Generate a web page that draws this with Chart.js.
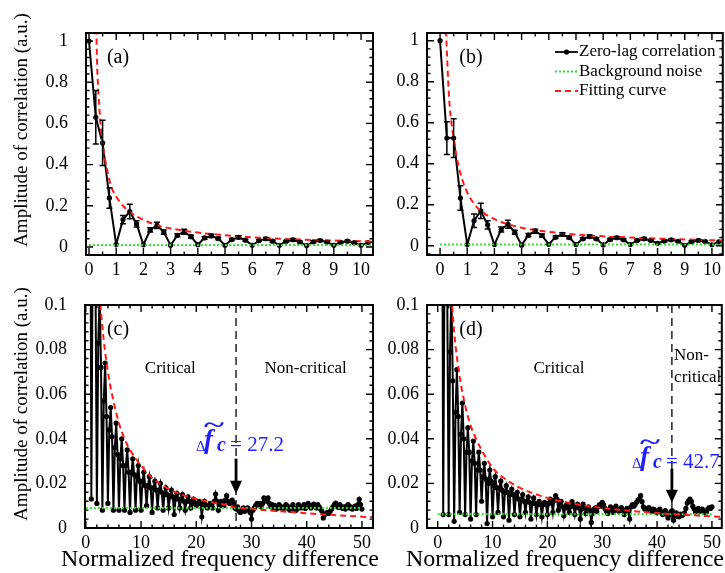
<!DOCTYPE html>
<html>
<head>
<meta charset="utf-8">
<script src="https://cdn.jsdelivr.net/npm/chart.js@4.4.1/dist/chart.umd.min.js"></script>
<style>
  html, body { margin: 0; padding: 0; background: #fff; }
  #wrap { position: relative; width: 725px; height: 573px; overflow: hidden; }
  #wrap canvas { position: absolute; left: 0; top: 0; }
</style>
</head>
<body>
<div id="wrap">
  <canvas id="chartA" width="725" height="573"></canvas>
  <canvas id="chartB" width="725" height="573"></canvas>
  <canvas id="chartC" width="725" height="573"></canvas>
  <canvas id="chartD" width="725" height="573"></canvas>
</div>
<script>
// zero-lag correlation, one value every 0.25 of normalized frequency difference (0 .. 50)
// panels (a) and (c) show the same measurement, (b) and (d) the other one
const corrAC = [
  1.0, 0.63, 0.505, 0.238,   0.013, 0.133, 0.172, 0.112,   0.011, 0.083, 0.105, 0.072,
  0.008, 0.057, 0.074, 0.05,  0.011, 0.044, 0.054, 0.041,   0.008, 0.036, 0.047, 0.033,
  0.008, 0.031, 0.040, 0.028, 0.008, 0.028, 0.035, 0.025,   0.007, 0.025, 0.031, 0.024,
  0.008, 0.023, 0.028, 0.021, 0.008, 0.021, 0.025, 0.019,   0.010, 0.019, 0.023, 0.018,
  0.007, 0.018, 0.021, 0.017, 0.009, 0.017, 0.020, 0.016,   0.008, 0.015, 0.018, 0.015,
  0.009, 0.014, 0.017, 0.014, 0.006, 0.013, 0.0155, 0.013,  0.009, 0.013, 0.015, 0.012,
  0.008, 0.012, 0.014, 0.012, 0.009, 0.011, 0.013, 0.011,   0.010, 0.011, 0.012, 0.011,
  0.005, 0.010, 0.012, 0.010, 0.009, 0.010, 0.011, 0.010,   0.009, 0.012, 0.0152, 0.012,
  0.008, 0.010, 0.012, 0.011, 0.010, 0.0125, 0.0145, 0.012, 0.011, 0.012, 0.0125, 0.011,
  0.009, 0.0085, 0.0095, 0.0075, 0.007, 0.008, 0.009, 0.0075, 0.008, 0.009, 0.0085, 0.007,
  0.004, 0.008, 0.009, 0.010, 0.011, 0.0105, 0.011, 0.0095, 0.011, 0.0135, 0.013, 0.012,
  0.0135, 0.011, 0.0095, 0.0105, 0.009, 0.010, 0.0085, 0.0095, 0.0105, 0.009, 0.0095, 0.0085,
  0.0095, 0.0105, 0.0098, 0.0085, 0.008, 0.0095, 0.0105, 0.009, 0.0078, 0.0085, 0.0105, 0.0095,
  0.009, 0.0095, 0.0105, 0.0088, 0.0095, 0.011, 0.010, 0.009, 0.0098, 0.0107, 0.0095, 0.009,
  0.0105, 0.0095, 0.0085, 0.0075, 0.0045, 0.006, 0.0065, 0.007, 0.0065, 0.0075, 0.0085, 0.0095,
  0.0105, 0.0112, 0.0098, 0.0092, 0.0105, 0.0095, 0.0088, 0.0095, 0.0085, 0.0098, 0.0105, 0.009,
  0.0095, 0.0085, 0.0092, 0.0098, 0.0088, 0.0105, 0.0128, 0.0105,
  0.0085
];
const corrBD = [
  1.0, 0.525, 0.525, 0.233,  0.006, 0.122, 0.17, 0.102,    0.006, 0.079, 0.105, 0.066,
  0.003, 0.052, 0.071, 0.050, 0.007, 0.042, 0.056, 0.040,   0.006, 0.034, 0.045, 0.034,
  0.004, 0.030, 0.039, 0.029, 0.006, 0.026, 0.034, 0.026,   0.012, 0.023, 0.029, 0.022,
  0.002, 0.020, 0.026, 0.021, 0.005, 0.019, 0.023, 0.018,   0.007, 0.018, 0.021, 0.017,
  0.005, 0.016, 0.019, 0.016, 0.0035, 0.015, 0.0175, 0.015, 0.006, 0.014, 0.016, 0.013,
  0.005, 0.013, 0.015, 0.012, 0.007, 0.012, 0.014, 0.0115,  0.004, 0.011, 0.0135, 0.011,
  0.006, 0.0105, 0.012, 0.0105, 0.005, 0.0105, 0.0115, 0.0105, 0.006, 0.011, 0.013, 0.012,
  0.007, 0.0125, 0.0145, 0.013, 0.008, 0.0115, 0.012, 0.0095, 0.0055, 0.009, 0.0105, 0.009,
  0.007, 0.0095, 0.0118, 0.010, 0.006, 0.0095, 0.0107, 0.009, 0.004, 0.0085, 0.0107, 0.0095,
  0.0065, 0.009, 0.0095, 0.008, 0.0025, 0.0065, 0.0085, 0.009, 0.0075, 0.0095, 0.0105, 0.0098,
  0.0115, 0.0105, 0.0088, 0.0075, 0.0065, 0.008, 0.0095, 0.0085, 0.007, 0.0088, 0.0098, 0.0082,
  0.0075, 0.0085, 0.0092, 0.0078, 0.006, 0.0078, 0.0088, 0.0072, 0.004, 0.0095, 0.0105, 0.0098,
  0.0105, 0.0115, 0.0125, 0.013, 0.0145, 0.0118, 0.0095, 0.0085, 0.0082, 0.0088, 0.0092, 0.0078,
  0.0075, 0.0085, 0.0082, 0.0072, 0.0068, 0.0078, 0.0085, 0.0072, 0.006, 0.0065, 0.0078, 0.0062,
  0.0045, 0.006, 0.0072, 0.0078, 0.0035, 0.0058, 0.0068, 0.0052, 0.005, 0.0062, 0.0055, 0.006,
  0.0068, 0.0088, 0.0112, 0.0122, 0.013, 0.0118, 0.0098, 0.0085, 0.0072, 0.0082, 0.0088, 0.0075,
  0.0078, 0.0085, 0.0075, 0.0068, 0.0072, 0.0085, 0.0092, 0.0088,
  0.0095
];
// error bars (half height) for the first 41 points, shown in (a) and (b)
const errA = [
  0, 0.13, 0.11, 0.05,  0, 0.02, 0.035, 0.015,  0, 0.01, 0.015, 0.01,  0, 0.007, 0.012, 0.007,
  0, 0.006, 0.008, 0.006,  0, 0.005, 0.007, 0.005,  0, 0.005, 0.006, 0.005,  0, 0.004, 0.006, 0.004,
  0, 0.004, 0.005, 0.004,  0, 0.004, 0.005, 0.004,  0
];
const errB = [
  0, 0.08, 0.095, 0.06,  0, 0.033, 0.037, 0.02,  0, 0.012, 0.02, 0.01,  0, 0.008, 0.01, 0.007,
  0, 0.006, 0.008, 0.006,  0, 0.005, 0.007, 0.005,  0, 0.005, 0.006, 0.005,  0, 0.004, 0.006, 0.004,
  0, 0.004, 0.005, 0.004,  0, 0.004, 0.005, 0.004,  0
];
// fitting curves
const fitXAC = [0.27, 0.3, 0.35, 0.4, 0.5, 0.6, 0.8, 1, 1.25, 1.5, 2, 2.5, 3, 4, 5, 6, 7, 8, 10, 12, 15, 20, 25, 27.2, 30, 35, 40, 45, 50, 52];
const fitYAC = [1.06, 0.88, 0.74, 0.64, 0.50, 0.42, 0.30, 0.245, 0.2, 0.17, 0.132, 0.106, 0.09, 0.07, 0.057, 0.047, 0.04, 0.035, 0.028, 0.0225, 0.0175, 0.013, 0.0105, 0.0093, 0.0085, 0.0075, 0.0066, 0.0058, 0.0051, 0.0048];
const fitXBD = [0.22, 0.25, 0.3, 0.35, 0.4, 0.5, 0.6, 0.8, 1, 1.25, 1.5, 2, 2.5, 3, 4, 5, 6, 7, 8, 10, 12, 15, 20, 25, 30, 35, 40, 42.7, 45, 50, 52];
const fitYBD = [1.05, 0.95, 0.8, 0.69, 0.62, 0.525, 0.44, 0.33, 0.26, 0.205, 0.17, 0.13, 0.105, 0.088, 0.068, 0.055, 0.046, 0.04, 0.035, 0.027, 0.0225, 0.018, 0.0135, 0.0108, 0.009, 0.0077, 0.0067, 0.0062, 0.0059, 0.0052, 0.0049];
// background noise level
const noiseX = [0, 50];
const noiseAC = [0.009, 0.009];
const noiseBD = [0.0062, 0.0062];
// critical frequency differences
const critC = 27.2;
const critD = 42.7;
// tick labels
const xTicksTop = [0, 1, 2, 3, 4, 5, 6, 7, 8, 9, 10];
const yTicksTop = [0, 0.2, 0.4, 0.6, 0.8, 1];
const xTicksBottom = [0, 10, 20, 30, 40, 50];
const yTicksBottom = [0, 0.02, 0.04, 0.06, 0.08, 0.1];

const freq = corrAC.map((_, i) => i / 4);

const SERIF = '"Liberation Serif", "Times New Roman", serif';
const GREEN = '#2fe02f';
const RED = '#ff1a1a';
const BLUE = '#1f1fff';
const Y_AXIS_W = 60;
const X_AXIS_H = 28;

function text(ctx, s, x, y, font, align, base, color) {
  ctx.font = font;
  ctx.textAlign = align || 'left';
  ctx.textBaseline = base || 'alphabetic';
  ctx.fillStyle = color || '#000';
  ctx.fillText(s, x, y);
}

function drawTicks(ctx, scale, area, majors, minorStep, horiz) {
  const lines = [];
  const k0 = Math.ceil(scale.min / minorStep), k1 = Math.floor(scale.max / minorStep);
  for (let k = k0; k <= k1; k++) lines.push([k * minorStep, 3.5]);
  majors.forEach(v => lines.push([v, 7]));
  ctx.beginPath();
  lines.forEach(([v, len]) => {
    const p = scale.getPixelForValue(v);
    if (horiz) {
      ctx.moveTo(p, area.bottom); ctx.lineTo(p, area.bottom - len);
      ctx.moveTo(p, area.top); ctx.lineTo(p, area.top + len);
    } else {
      ctx.moveTo(area.left, p); ctx.lineTo(area.left + len, p);
      ctx.moveTo(area.right, p); ctx.lineTo(area.right - len, p);
    }
  });
  ctx.stroke();
}

function drawCritical(ctx, xs, ys, area, c) {
  const px = xs.getPixelForValue(c.x);
  ctx.save();
  ctx.strokeStyle = '#000';
  ctx.lineWidth = 1.3;
  ctx.setLineDash([8, 5]);
  ctx.beginPath(); ctx.moveTo(px, area.top); ctx.lineTo(px, area.bottom); ctx.stroke();
  ctx.setLineDash([]);
  // arrow
  const top = ys.getPixelForValue(c.arrowTop), tip = ys.getPixelForValue(c.arrowTip);
  ctx.lineWidth = 2.8;
  ctx.beginPath(); ctx.moveTo(px, top); ctx.lineTo(px, tip - 10); ctx.stroke();
  ctx.fillStyle = '#000';
  ctx.beginPath(); ctx.moveTo(px - 6, tip - 13); ctx.lineTo(px + 6, tip - 13); ctx.lineTo(px, tip); ctx.closePath(); ctx.fill();
  // label
  const by = ys.getPixelForValue(c.textY);
  text(ctx, '\u0394', px - 40, by, '15px ' + SERIF, 'left', 'alphabetic', BLUE);
  text(ctx, 'f', px - 32, by - 3, 'italic bold 27px ' + SERIF, 'left', 'alphabetic', BLUE);
  text(ctx, 'c', px - 19, by, 'italic bold 20px ' + SERIF, 'left', 'alphabetic', BLUE);
  ctx.save();
  ctx.translate(px - 22, by - 19);
  ctx.scale(1.6, 1);
  text(ctx, '~', 0, 0, 'bold 24px ' + SERIF, 'center', 'alphabetic', BLUE);
  ctx.restore();
  text(ctx, '= ' + c.x, px - 6, by, '21px ' + SERIF, 'left', 'alphabetic', BLUE);
  ctx.restore();
}

function decor(p) {
  return {
    id: 'decor' + p.id,
    afterDatasetsDraw(chart) {
      if (!p.err) return;
      const ctx = chart.ctx, a = chart.chartArea, xs = chart.scales.x, ys = chart.scales.y;
      ctx.save();
      ctx.beginPath(); ctx.rect(a.left, a.top, a.right - a.left, a.bottom - a.top); ctx.clip();
      ctx.strokeStyle = '#000'; ctx.lineWidth = 1.5;
      ctx.beginPath();
      p.err.forEach((e, i) => {
        if (!e) return;
        const x = xs.getPixelForValue(freq[i]);
        const y1 = ys.getPixelForValue(p.values[i] + e), y2 = ys.getPixelForValue(p.values[i] - e);
        ctx.moveTo(x, y1); ctx.lineTo(x, y2);
        ctx.moveTo(x - 3, y1); ctx.lineTo(x + 3, y1);
        ctx.moveTo(x - 3, y2); ctx.lineTo(x + 3, y2);
      });
      ctx.stroke();
      ctx.restore();
    },
    afterDraw(chart) {
      const ctx = chart.ctx, a = chart.chartArea, xs = chart.scales.x, ys = chart.scales.y;
      ctx.save();
      if (p.crit) drawCritical(ctx, xs, ys, a, p.crit);
      (p.regions || []).forEach(r => {
        text(ctx, r.text, xs.getPixelForValue(r.x), ys.getPixelForValue(r.y), '17px ' + SERIF, r.align, 'middle');
      });
      text(ctx, p.tag, a.left + p.tagDX, a.top + 25, '20px ' + SERIF, 'center', 'middle');
      // frame and inward ticks on every side
      ctx.strokeStyle = '#000';
      ctx.lineWidth = 1.4;
      drawTicks(ctx, xs, a, p.xTicks, p.xMinor, true);
      drawTicks(ctx, ys, a, p.yTicks, p.yMinor, false);
      ctx.lineWidth = 2;
      ctx.strokeRect(a.left, a.top, a.right - a.left, a.bottom - a.top);
      if (p.yTitle) {
        ctx.save();
        ctx.translate(22, p.yTitle);
        ctx.rotate(-Math.PI / 2);
        text(ctx, 'Amplitude of correlation (a.u.)', 0, 0, '19px ' + SERIF, 'center', 'middle');
        ctx.restore();
      }
      if (p.xTitle) text(ctx, 'Normalized frequency difference', p.xTitle, 566, '24px ' + SERIF, 'center', 'alphabetic');
      if (p.legend) {
        const rows = [
          ['Zero-lag correlation', '#000', [], 1.8, true],
          ['Background noise', GREEN, [2, 2], 2, false],
          ['Fitting curve', RED, [6, 4], 2, false]
        ];
        rows.forEach((r, i) => {
          const y = 52 + i * 19.5;
          ctx.strokeStyle = r[1]; ctx.lineWidth = r[3]; ctx.setLineDash(r[2]);
          ctx.beginPath(); ctx.moveTo(555, y); ctx.lineTo(578, y); ctx.stroke();
          ctx.setLineDash([]);
          if (r[4]) { ctx.fillStyle = '#000'; ctx.beginPath(); ctx.arc(566.5, y, 2.6, 0, Math.PI * 2); ctx.fill(); }
          text(ctx, r[0], 579, y, '17px ' + SERIF, 'left', 'middle');
        });
      }
      ctx.restore();
    }
  };
}

function makeChart(p) {
  const tickFont = { family: SERIF, size: 18 };
  new Chart(document.getElementById(p.id), {
    type: 'line',
    data: {
      datasets: [
        { label: 'Zero-lag correlation', data: p.values.map((v, i) => ({ x: freq[i], y: v })),
          borderColor: '#000', backgroundColor: '#000', borderWidth: 2, pointRadius: 2.6,
          pointBorderWidth: 0, tension: 0, order: 2, clip: 0 },
        { label: 'Background noise', data: noiseX.map((x, i) => ({ x: x, y: p.noise[i] })),
          borderColor: GREEN, borderWidth: 2, borderDash: [2, 2], pointRadius: 0, order: 1, clip: 0 },
        { label: 'Fitting curve', data: p.fitX.map((x, i) => ({ x: x, y: p.fitY[i] })),
          borderColor: RED, borderWidth: 2, borderDash: [6, 4], pointRadius: 0,
          cubicInterpolationMode: 'monotone', order: 0, clip: 0 }
      ]
    },
    options: {
      responsive: false,
      animation: false,
      devicePixelRatio: 1,
      events: [],
      layout: {
        autoPadding: false,
        padding: { left: p.area.left - Y_AXIS_W, top: p.area.top, right: 725 - p.area.right, bottom: 573 - p.area.bottom - X_AXIS_H }
      },
      plugins: { legend: { display: false }, tooltip: { enabled: false } },
      scales: {
        x: {
          type: 'linear', min: p.xMin, max: p.xMax,
          grid: { display: false, drawTicks: false }, border: { display: false },
          afterBuildTicks: s => { s.ticks = p.xTicks.map(v => ({ value: v })); },
          afterFit: s => { s.height = X_AXIS_H; },
          ticks: { font: tickFont, color: '#000', padding: 4, maxRotation: 0, autoSkip: false, callback: v => String(v) }
        },
        y: {
          type: 'linear', min: p.yMin, max: p.yMax,
          grid: { display: false, drawTicks: false }, border: { display: false },
          afterBuildTicks: s => { s.ticks = p.yTicks.map(v => ({ value: v })); },
          afterFit: s => { s.width = Y_AXIS_W; },
          ticks: { font: tickFont, color: '#000', padding: p.yPad, autoSkip: false, callback: v => String(v) }
        }
      }
    },
    plugins: [decor(p)]
  });
}

makeChart({
  id: 'chartA', area: { left: 86, top: 33, right: 373, bottom: 255 },
  xMin: -0.11, xMax: 10.44, yMin: -0.039, yMax: 1.039,
  values: corrAC, err: errA, fitX: fitXAC, fitY: fitYAC, noise: noiseAC,
  xTicks: xTicksTop, yTicks: yTicksTop, xMinor: 0.5, yMinor: 0.04, yPad: 18,
  tag: '(a)', tagDX: 32, yTitle: 130
});
makeChart({
  id: 'chartB', area: { left: 427, top: 33, right: 723, bottom: 255 },
  xMin: -0.48, xMax: 10.4, yMin: -0.045, yMax: 1.0376,
  values: corrBD, err: errB, fitX: fitXBD, fitY: fitYBD, noise: noiseBD,
  xTicks: xTicksTop, yTicks: yTicksTop, xMinor: 0.5, yMinor: 0.04, yPad: 8,
  tag: '(b)', tagDX: 44, legend: true
});
makeChart({
  id: 'chartC', area: { left: 85, top: 305, right: 373, bottom: 528 },
  xMin: -0.15, xMax: 52.0, yMin: 0, yMax: 0.1,
  values: corrAC, fitX: fitXAC, fitY: fitYAC, noise: noiseAC,
  xTicks: xTicksBottom, yTicks: yTicksBottom, xMinor: 2, yMinor: 0.004, yPad: 18,
  tag: '(c)', tagDX: 33, yTitle: 404, xTitle: 220,
  crit: { x: critC, textY: 0.0347, arrowTop: 0.0311, arrowTip: 0.0154 },
  regions: [
    { text: 'Critical', x: 15.3, y: 0.0714, align: 'center' },
    { text: 'Non-critical', x: 39.8, y: 0.0714, align: 'center' }
  ]
});
makeChart({
  id: 'chartD', area: { left: 427, top: 305, right: 723, bottom: 528 },
  xMin: -1.95, xMax: 51.8, yMin: 0, yMax: 0.1,
  values: corrBD, fitX: fitXBD, fitY: fitYBD, noise: noiseBD,
  xTicks: xTicksBottom, yTicks: yTicksBottom, xMinor: 2, yMinor: 0.004, yPad: 8,
  tag: '(d)', tagDX: 44, xTitle: 565,
  crit: { x: critD, textY: 0.027, arrowTop: 0.0266, arrowTip: 0.0113 },
  regions: [
    { text: 'Critical', x: 22.1, y: 0.0714, align: 'center' },
    { text: 'Non-', x: 43.1, y: 0.0773, align: 'left' },
    { text: 'critical', x: 43.1, y: 0.0674, align: 'left' }
  ]
});
</script>
</body>
</html>
